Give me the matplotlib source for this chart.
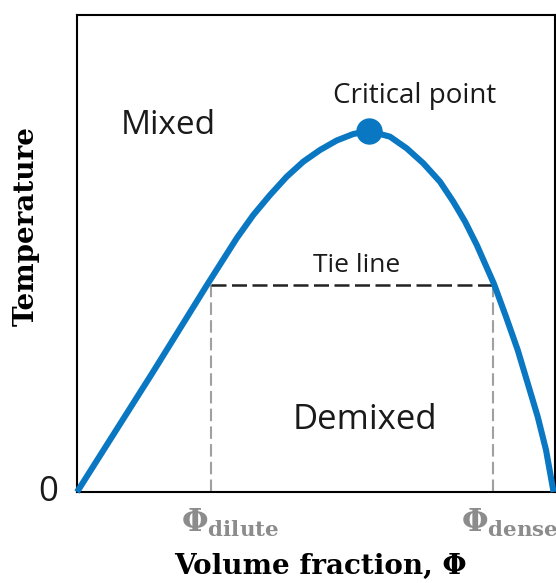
import matplotlib
matplotlib.use("Agg")
import matplotlib.pyplot as plt

# Binodal curve (volume fraction vs temperature, normalized units)
phi = [0.0, 0.1590, 0.2720, 0.3341, 0.3688, 0.4038, 0.4387, 0.4734, 0.5084,
       0.5433, 0.5780, 0.6109, 0.6548, 0.6897, 0.7245, 0.7594, 0.7872, 0.8119,
       0.8364, 0.8724, 0.8975, 0.9220, 0.9429, 0.9638, 0.9812, 0.9970]
temp = [0.0, 0.2516, 0.4340, 0.5319, 0.5807, 0.6226, 0.6610, 0.6925, 0.7170,
        0.7369, 0.7505, 0.7568, 0.7449, 0.7205, 0.6891, 0.6505, 0.6086, 0.5667,
        0.5178, 0.4361, 0.3675, 0.2977, 0.2279, 0.1579, 0.0881, 0.0]

critical_phi = 0.6109
critical_temp = 0.7568

tie_temp = 0.435
phi_dilute = 0.2803
phi_dense = 0.8696

BLUE = "#0a77c2"
GRAY = "#a0a0a0"

plt.rcParams['mathtext.fontset'] = 'dejavuserif'

fig = plt.figure(figsize=(5.56, 5.83), dpi=100)
ax = fig.add_axes([77/556, (583-492)/583, (555-77)/556, (492-15)/583])
ax.set_xlim(0, 1)
ax.set_ylim(0, 1)
ax.set_xticks([])
ax.set_yticks([])
for s in ax.spines.values():
    s.set_linewidth(1.5)
    s.set_color("black")

# vertical guide lines
ax.plot([phi_dilute, phi_dilute], [0, tie_temp], color=GRAY, lw=1.5,
        dashes=(6, 2.5), zorder=2)
ax.plot([phi_dense, phi_dense], [0, tie_temp], color=GRAY, lw=1.5,
        dashes=(6, 2.5), zorder=2)
# tie line
ax.plot([phi_dilute, phi_dense], [tie_temp, tie_temp], color="#222222", lw=1.8,
        dashes=(6, 2.2), zorder=2)

# binodal
ax.plot(phi, temp, color=BLUE, lw=4.4, solid_capstyle='butt',
        solid_joinstyle='round', zorder=3, clip_on=False)
ax.plot([critical_phi], [critical_temp], 'o', color=BLUE, ms=18, zorder=4)

sans = "Open Sans"
ax.text(0.191, 0.768, "Mixed", fontsize=24, family=sans, ha='center', va='center',
        color="#1a1a1a")
ax.text(0.707, 0.83, "Critical point", fontsize=20, family=sans, ha='center',
        va='center', color="#1a1a1a")
ax.text(0.585, 0.474, "Tie line", fontsize=19, family=sans, ha='center',
        va='center', color="#1a1a1a")
ax.text(0.603, 0.151, "Demixed", fontsize=25, family=sans, ha='center',
        va='center', color="#1a1a1a")
ax.text(-0.061, 0.0, "0", fontsize=25, family=sans, ha='center', va='center',
        color="#1a1a1a", transform=ax.transAxes)

ax.text(0.2176, -0.065, r'$\mathbf{\Phi}_{\mathbf{dilute}}$', fontsize=22,
        color="#8c8c8c", ha='left', va='center', transform=ax.transAxes)
ax.text(0.803, -0.065, r'$\mathbf{\Phi}_{\mathbf{dense}}$', fontsize=22,
        color="#8c8c8c", ha='left', va='center', transform=ax.transAxes,
        clip_on=False)

ax.text(0.51, -0.157, "Volume fraction, Φ", fontsize=20, family="DejaVu Serif",
        weight='bold', ha='center', va='center', transform=ax.transAxes)
ax.text(-0.107, 0.558, "Temperature", fontsize=20, family="DejaVu Serif",
        weight='bold', ha='center', va='center', rotation=90,
        transform=ax.transAxes)

fig.savefig("out.png", dpi=100)
